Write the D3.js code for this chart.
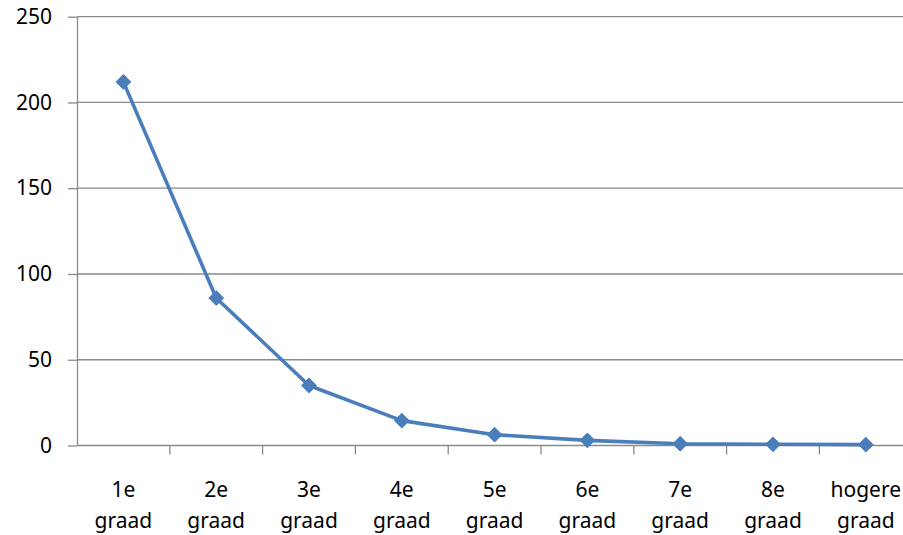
<!DOCTYPE html>
<html>
<head>
<meta charset="utf-8">
<style>
    body { margin: 0; background: #fff; }
    svg { display: block; }
    .grid line { stroke: #8a8a8a; stroke-width: 1.3; }
    .axis .domain { stroke: #8a8a8a; stroke-width: 1.3; }
    .axis .tick line { stroke: #8a8a8a; stroke-width: 1.3; }
    .axis text { font-family: 'Noto Sans', 'Open Sans', sans-serif; font-size: 21px; fill: #000; }
</style>
</head>
<body>
<svg width="903" height="535"></svg>
<script src="https://cdnjs.cloudflare.com/ajax/libs/d3/7.8.5/d3.min.js"></script>
<script>
    // categories & values
    let categories = ["1e graad", "2e graad", "3e graad", "4e graad", "5e graad", "6e graad", "7e graad", "8e graad", "hogere graad"];
    let values = [212, 86, 35, 14.5, 6.3, 3, 1, 0.7, 0.5];
    let yTicks = [0, 50, 100, 150, 200, 250];

    let svg = d3.select("svg");
    let margin = { top: 16.7, left: 77, bottom: 89.5 };

    let x = d3.scaleBand()
        .domain(categories)
        .range([margin.left, margin.left + 9 * 92.8]);

    let y = d3.scaleLinear()
        .domain([0, 250])
        .range([535 - margin.bottom, margin.top]);

    // horizontal gridlines
    svg.append("g")
        .attr("class", "grid")
        .selectAll("line")
        .data(yTicks.filter(d => d > 0))
        .join("line")
        .attr("x1", margin.left)
        .attr("x2", 920)
        .attr("y1", d => y(d))
        .attr("y2", d => y(d));

    // y axis
    svg.append("g")
        .attr("class", "y axis")
        .attr("transform", `translate(${margin.left},0)`)
        .call(d3.axisLeft(y).tickValues(yTicks).tickSize(9).tickSizeOuter(0).tickPadding(16));

    // x axis
    let xAxis = svg.append("g")
        .attr("class", "x axis")
        .attr("transform", `translate(0,${y(0)})`)
        .call(d3.axisBottom(x).tickSize(0).tickFormat(""));

    xAxis.select(".domain").attr("d", `M${margin.left},0H920`);

    // category boundary ticks
    xAxis.selectAll(".sep")
        .data(categories)
        .join("line")
        .attr("class", "sep")
        .attr("x1", d => x(d) + x.bandwidth())
        .attr("x2", d => x(d) + x.bandwidth())
        .attr("y1", 0)
        .attr("y2", 9)
        .attr("stroke", "#8a8a8a")
        .attr("stroke-width", 1.3);

    // two-line category labels
    let labels = xAxis.selectAll(".lbl")
        .data(categories)
        .join("text")
        .attr("class", "lbl")
        .attr("text-anchor", "middle")
        .attr("x", d => x(d) + x.bandwidth() / 2);

    labels.each(function (d) {
        let parts = d.split(" ");
        d3.select(this).selectAll("tspan")
            .data(parts)
            .join("tspan")
            .attr("x", x(d) + x.bandwidth() / 2)
            .attr("y", (p, i) => 51 + i * 31)
            .text(p => p);
    });

    let cx = d => x(d) + x.bandwidth() / 2;

    // line
    let line = d3.line()
        .x((d, i) => cx(categories[i]))
        .y(d => y(d));

    svg.append("path")
        .attr("d", line(values))
        .attr("fill", "none")
        .attr("stroke", "#4a7ebb")
        .attr("stroke-width", 3.6)
        .attr("stroke-linejoin", "round");

    // diamond markers
    svg.selectAll(".marker")
        .data(values)
        .join("path")
        .attr("class", "marker")
        .attr("d", d3.symbol().type(d3.symbolDiamond2).size(140))
        .attr("transform", (d, i) => `translate(${cx(categories[i])},${y(d)})`)
        .attr("fill", "#4a7ebb")
        .attr("stroke", "#4a7ebb")
        .attr("stroke-width", 1);
</script>
</body>
</html>
